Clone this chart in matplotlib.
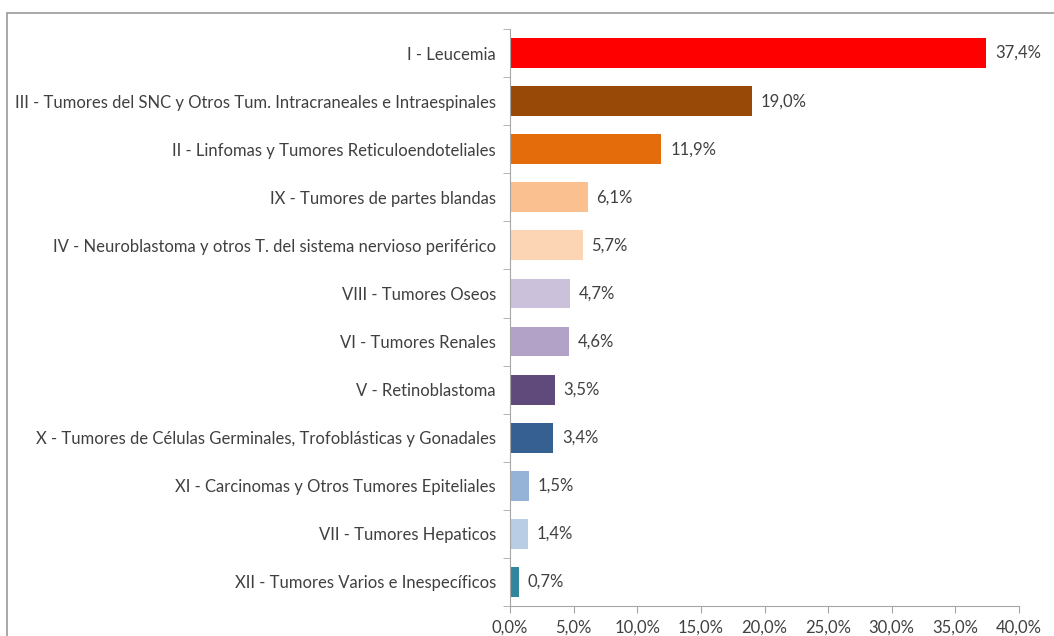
import matplotlib.pyplot as plt
from matplotlib.patches import Rectangle

categories = [
    "I - Leucemia",
    "III - Tumores del SNC y Otros Tum. Intracraneales e Intraespinales",
    "II - Linfomas y Tumores Reticuloendoteliales",
    "IX - Tumores de partes blandas",
    "IV - Neuroblastoma y otros T. del sistema nervioso periférico",
    "VIII - Tumores Oseos",
    "VI - Tumores Renales",
    "V - Retinoblastoma",
    "X - Tumores de Células Germinales, Trofoblásticas y Gonadales",
    "XI - Carcinomas y Otros Tumores Epiteliales",
    "VII - Tumores Hepaticos",
    "XII - Tumores Varios e Inespecíficos",
]
values = [37.4, 19.0, 11.9, 6.1, 5.7, 4.7, 4.6, 3.5, 3.4, 1.5, 1.4, 0.7]
colors = ["#FF0000", "#984807", "#E46C0A", "#FAC090", "#FCD5B5", "#CCC1DA",
          "#B3A2C7", "#604A7B", "#376092", "#95B3D7", "#B9CDE5", "#31859C"]
xticks = [0, 5, 10, 15, 20, 25, 30, 35, 40]

plt.rcParams['font.family'] = ['Lato', 'DejaVu Sans']
txt = "#404040"
axc = "#A6A6A6"

fig = plt.figure(figsize=(10.54, 6.36), dpi=100)
ax = fig.add_axes([510 / 1054, 1 - 606 / 636, 509 / 1054, 577 / 636])

# chart area border
fig.patches.append(Rectangle((6.5 / 1054, -0.1), 1.2, 1 - 12.5 / 636 + 0.1,
                             transform=fig.transFigure, fill=False,
                             edgecolor="#9A9A9A", linewidth=1.2))

n = len(categories)
ypos = list(range(n))[::-1]
ax.barh(ypos, values, height=0.62, color=colors)
for y, v in zip(ypos, values):
    ax.text(v + 0.7, y, f"{v:.1f}%".replace(".", ","), va="center", ha="left",
            fontsize=12, color=txt)

ax.set_xlim(0, 40)
ax.set_ylim(-0.5, n - 0.5)
ax.set_xticks(xticks)
ax.set_xticklabels([f"{t:.1f}%".replace(".", ",") for t in xticks], fontsize=12, color=txt)
ax.set_yticks(ypos)
ax.set_yticklabels(categories, fontsize=12, color=txt)
ax.tick_params(axis="y", length=0, pad=10)
ax.tick_params(axis="x", length=5, color=axc, pad=5)
ax.set_yticks([i - 0.5 for i in range(n + 1)], minor=True)
ax.tick_params(axis="y", which="minor", length=5, color=axc)
for s in ["top", "right"]:
    ax.spines[s].set_visible(False)
for s in ["left", "bottom"]:
    ax.spines[s].set_color(axc)

fig.savefig("out.png", dpi=100)
